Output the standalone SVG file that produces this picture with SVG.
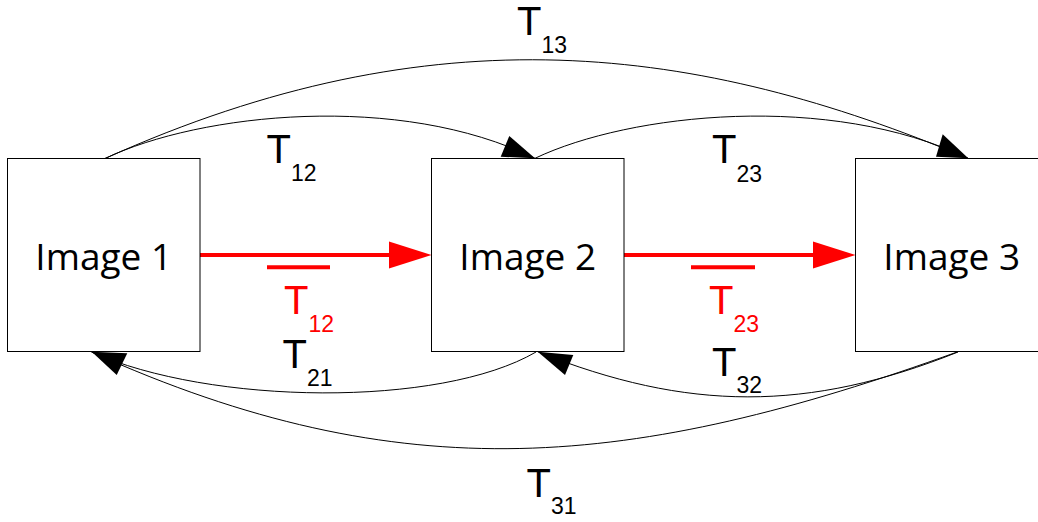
<svg xmlns="http://www.w3.org/2000/svg" width="1038" height="522" viewBox="0 0 1038 522">
<style>
.box{fill:#fff;stroke:#000;stroke-width:1}
.name{font-family:"Open Sans",sans-serif;font-size:37px;fill:#000;text-anchor:middle}
.lbl{font-family:"Liberation Sans",Arial,sans-serif;font-size:40px;fill:#000}
.sub{font-size:23px}
.red{fill:#ff0000}
.curve{fill:none;stroke:#000;stroke-width:1}
.head{fill:#000}
.rline{stroke:#ff0000;stroke-width:4;fill:none}
</style>
<g id="connectors">
<path class="curve" d="M105,158.5 C200,113 400,92 535,158.3"/>
<path class="curve" d="M105,158.5 C435,10 698,44.9 968,158.3"/>
<path class="curve" d="M535,158.3 C630,113 830,92 968,158.3"/>
<path class="curve" d="M536,352 C440,408 210,405 91.5,352"/>
<path class="curve" d="M958,352 C808,412 687.7,411.7 537.7,351.7"/>
<path class="curve" d="M958,351.7 C633,469 403.5,492.4 91.5,352"/>
<polygon class="head" points="535,158.3 509.3,136 500.7,156.7"/>
<polygon class="head" points="968.3,158.3 942.7,134.3 936,156.7"/>
<polygon class="head" points="91.7,351.7 127.3,353.3 116.7,375"/>
<polygon class="head" points="537.7,351.7 573.3,355 565,375"/>
<line class="rline" x1="200" y1="255" x2="392" y2="255"/>
<polygon class="red" points="389,241.5 431.5,255 389,268.5"/>
<line class="rline" x1="624" y1="255" x2="816" y2="255"/>
<polygon class="red" points="813,241.5 855.5,255 813,268.5"/>
<line class="rline" x1="267" y1="267.3" x2="330" y2="267.3"/>
<line class="rline" x1="691" y1="267.3" x2="755" y2="267.3"/>
<text class="lbl" x="517" y="35">T<tspan class="sub" dy="18">13</tspan></text>
<text class="lbl" x="266.5" y="163.3">T<tspan class="sub" dy="17.5">12</tspan></text>
<text class="lbl" x="712" y="163.3">T<tspan class="sub" dy="18.4">23</tspan></text>
<text class="lbl red" x="284" y="314">T<tspan class="sub" dy="18.3">12</tspan></text>
<text class="lbl red" x="709" y="314">T<tspan class="sub" dy="18.3">23</tspan></text>
<text class="lbl" x="282.5" y="368.3">T<tspan class="sub" dy="17.7">21</tspan></text>
<text class="lbl" x="712" y="376">T<tspan class="sub" dy="17.3">32</tspan></text>
<text class="lbl" x="526.5" y="496.7">T<tspan class="sub" dy="17.6">31</tspan></text>
</g>
<g id="image1">
<rect class="box" x="7.5" y="158.5" width="192.5" height="193"/>
<text class="name" x="103.75" y="270">Image 1</text>
</g>
<g id="image2">
<rect class="box" x="431.5" y="158.5" width="192.5" height="193"/>
<text class="name" x="527.75" y="270">Image 2</text>
</g>
<g id="image3">
<rect class="box" x="855.5" y="158.5" width="192.5" height="193"/>
<text class="name" x="951.75" y="270">Image 3</text>
</g>
</svg>
